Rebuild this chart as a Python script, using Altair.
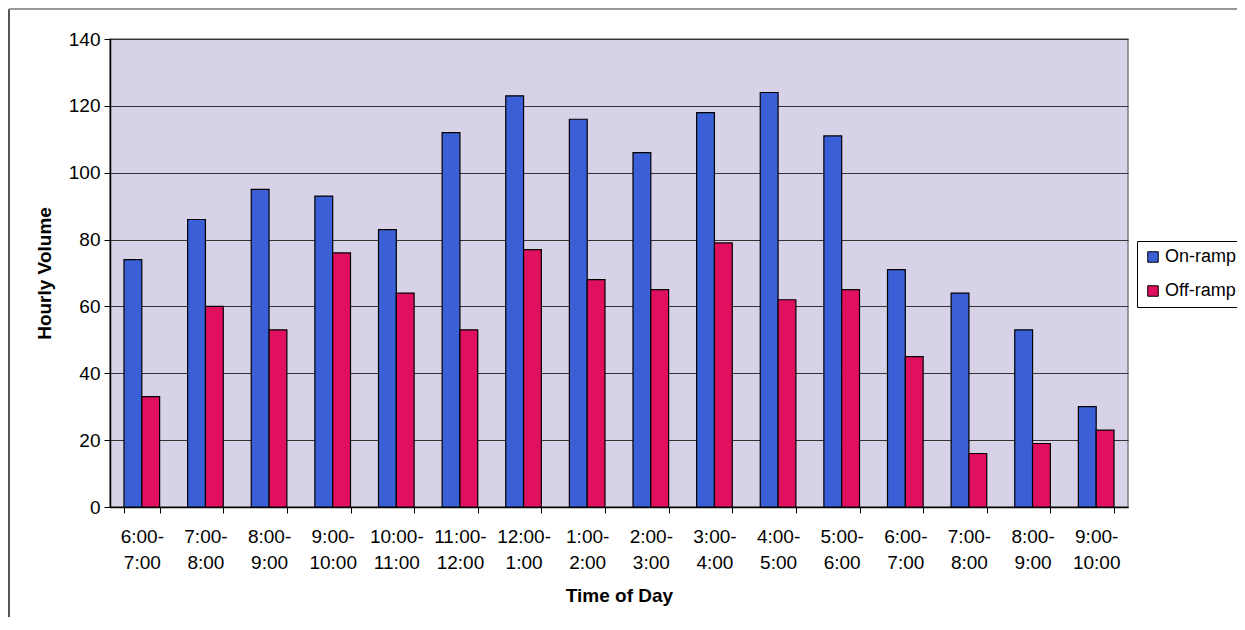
import altair as alt
import pandas as pd

slots = ["6:00-7:00", "7:00-8:00", "8:00-9:00", "9:00-10:00", "10:00-11:00",
         "11:00-12:00", "12:00-1:00", "1:00-2:00", "2:00-3:00", "3:00-4:00",
         "4:00-5:00", "5:00-6:00", "6:00-7:00 PM", "7:00-8:00 PM", "8:00-9:00 PM",
         "9:00-10:00 PM"]
on_ramp = [74, 86, 95, 93, 83, 112, 123, 116, 106, 118, 124, 111, 71, 64, 53, 30]
off_ramp = [33, 60, 53, 76, 64, 53, 77, 68, 65, 79, 62, 65, 45, 16, 19, 23]
series = ["On-ramp", "Off-ramp"]
colors = ["#3B5FD6", "#E0105E"]

rows = []
for s, a, b in zip(slots, on_ramp, off_ramp):
    rows.append({"slot": s, "ramp": "On-ramp", "vol": a})
    rows.append({"slot": s, "ramp": "Off-ramp", "vol": b})
df = pd.DataFrame(rows)

FONT = "Liberation Sans"

label_expr = ("isValid(datum.value) ? "
              "[split(replace(datum.value, ' PM', ''), '-')[0] + '-', "
              "split(replace(datum.value, ' PM', ''), '-')[1]] : ''")

bars = alt.Chart(df).mark_bar(stroke="black", strokeWidth=1.2).encode(
    x=alt.X("slot:N", sort=slots, title="Time of Day",
            scale=alt.Scale(paddingInner=0.44, paddingOuter=0.22),
            axis=alt.Axis(labelExpr=label_expr, labelAngle=0, tickBand="extent",
                          labelLineHeight=26, labelPadding=14, tickSize=6,
                          titlePadding=14)),
    xOffset=alt.XOffset("ramp:N", sort=series),
    y=alt.Y("vol:Q", title="Hourly Volume",
            scale=alt.Scale(domain=[0, 140], nice=False),
            axis=alt.Axis(values=[0, 20, 40, 60, 80, 100, 120, 140], grid=True,
                          gridColor="#333333", gridWidth=1, tickSize=6,
                          labelPadding=4, titlePadding=14)),
    color=alt.Color("ramp:N", sort=series,
                    scale=alt.Scale(domain=series, range=colors),
                    legend=alt.Legend(title=None, orient="none", legendX=1027, legendY=202,
                                      strokeColor="black", fillColor="white", padding=7,
                                      rowPadding=16, symbolType="square", symbolSize=110,
                                      symbolStrokeColor="black", symbolStrokeWidth=1,
                                      labelFontSize=18, labelFont=FONT, labelOffset=3,
                                      labelColor="black")),
)

left_border = alt.Chart(df).mark_rule(color="#555555", strokeWidth=1.5).encode(
    x=alt.value(-101), y=alt.value(-30), y2=alt.value(600))
top_border = alt.Chart(df).mark_rule(color="#999999", strokeWidth=1.5).encode(
    x=alt.value(-101), x2=alt.value(1130), y=alt.value(-30))

chart = alt.layer(bars, left_border, top_border).properties(
    width=1018, height=468,
    autosize=alt.AutoSizeParams(type="none"),
    padding={"left": 102, "top": 31, "right": 109, "bottom": 110},
    background="white",
).configure_view(
    fill="#D8D2E8", stroke="#808080", strokeWidth=1.5
).configure_axis(
    labelFont=FONT, titleFont=FONT, labelFontSize=19, titleFontSize=19,
    titleFontWeight="bold", labelColor="black", titleColor="black",
    domainColor="black", tickColor="black", domainWidth=1.5,
)

chart.save("out.html", embed_options={"renderer": "svg", "actions": False})
